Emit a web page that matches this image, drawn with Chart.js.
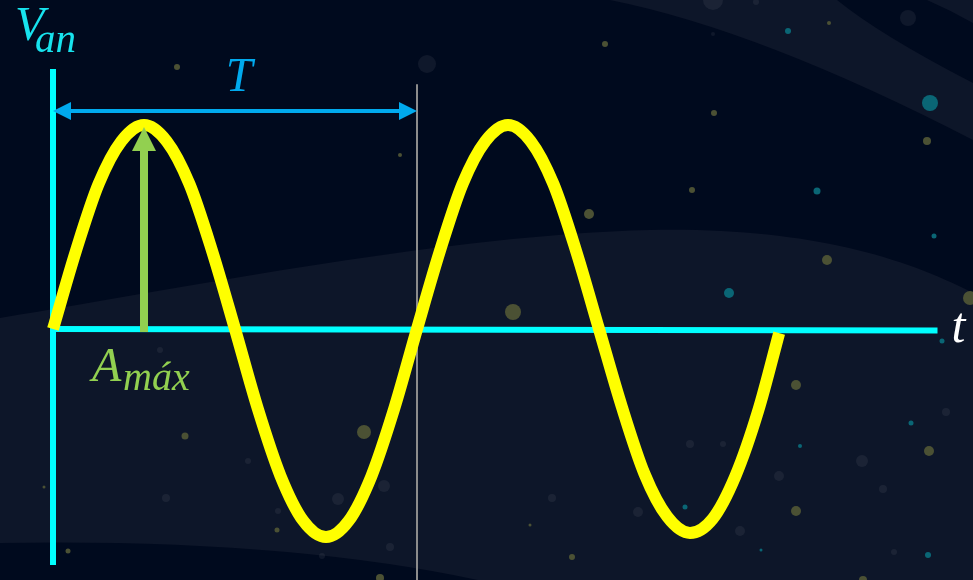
<!DOCTYPE html>
<html>
<head>
<meta charset="utf-8">
<script src="https://cdn.jsdelivr.net/npm/chart.js@4"></script>
<style>
  html, body { margin: 0; padding: 0; background: #000a1e; overflow: hidden; }
</style>
</head>
<body>
<canvas id="waveChart" width="973" height="580"></canvas>
<script>
// --- Data: time in periods (T = 1), voltage in units of A_max ---
const waveT = [0, 0.0625, 0.125, 0.1875, 0.25, 0.3125, 0.375, 0.4375, 0.5,
  0.5625, 0.625, 0.6875, 0.75, 0.8125, 0.875, 0.9375, 1,
  1.0625, 1.125, 1.1875, 1.25, 1.3125, 1.375, 1.4375, 1.5,
  1.5625, 1.625, 1.6875, 1.75, 1.8125, 1.875, 1.9375, 1.995];
const waveV = [0, 0.38, 0.71, 0.92, 1.0, 0.92, 0.71, 0.38, 0,
  -0.39, -0.72, -0.94, -1.02, -0.94, -0.72, -0.39, 0,
  0.38, 0.71, 0.92, 1.0, 0.92, 0.71, 0.38, 0,
  -0.38, -0.71, -0.92, -1.0, -0.93, -0.72, -0.40, -0.02];

const period = 1;        // T
const aMax = 1;          // A_max
const tAxisEnd = 2.43;   // end of the t axis
const vAxisTop = 1.275;
const vAxisBottom = -1.157;
const periodArrowV = 1.069;

// --- Background: dark sky with soft bands and dots ---
const stars = [
  // olive
  [177, 67, 3, 'o'], [605, 44, 3, 'o'], [714, 113, 3, 'o'], [692, 190, 3, 'o'], [589, 214, 5, 'o'],
  [827, 260, 5, 'o'], [927, 141, 4, 'o'], [829, 23, 2, 'o'], [970, 298, 7, 'o'], [513, 312, 8, 'o'],
  [400, 155, 2, 'o'], [796, 385, 5, 'o'], [929, 451, 5, 'o'], [796, 511, 5, 'o'], [863, 580, 4, 'o'],
  [364, 432, 7, 'o'], [185, 436, 3.5, 'o'], [277, 530, 2.5, 'o'], [68, 551, 2.5, 'o'], [380, 578, 4, 'o'],
  [572, 557, 3, 'o'], [530, 525, 1.5, 'o'], [44, 487, 1.5, 'o'],
  // teal
  [930, 103, 8, 't'], [788, 31, 3, 't'], [817, 191, 3.5, 't'], [934, 236, 2.5, 't'], [729, 293, 5, 't'],
  [942, 341, 2.5, 't'], [911, 423, 2.5, 't'], [800, 446, 2, 't'], [685, 507, 2.5, 't'], [928, 555, 3, 't'],
  [761, 550, 1.5, 't'],
  // grey bubbles
  [713, 0, 10, 'g'], [756, 2, 3, 'g'], [908, 18, 8, 'g'], [427, 64, 9, 'g'], [713, 34, 2, 'g'],
  [338, 499, 6, 'g'], [384, 486, 6, 'g'], [278, 511, 3, 'g'], [390, 547, 4, 'g'], [322, 556, 3, 'g'],
  [552, 498, 4, 'g'], [723, 444, 3, 'g'], [740, 531, 5, 'g'], [638, 512, 5, 'g'], [862, 461, 6, 'g'],
  [779, 476, 5, 'g'], [690, 444, 4, 'g'], [883, 489, 4, 'g'], [946, 412, 4, 'g'], [248, 461, 3, 'g'],
  [166, 498, 4, 'g'], [160, 350, 3, 'g'], [894, 552, 3, 'g']
];
const starColors = { o: '#4b5134', t: '#0a6675', g: 'rgba(255,255,255,0.06)' };

const skyPlugin = {
  id: 'sky',
  beforeDraw(chart) {
    const c = chart.ctx, w = chart.width, h = chart.height;
    c.save();
    c.fillStyle = '#000a1e';
    c.fillRect(0, 0, w, h);
    c.fillStyle = '#0d1629';
    // lower band
    c.beginPath();
    c.moveTo(0, 318);
    c.bezierCurveTo(200, 285, 450, 235, 650, 230);
    c.bezierCurveTo(800, 227, 900, 255, w, 293);
    c.lineTo(w, h); c.lineTo(0, h); c.closePath(); c.fill();
    // top-right arc band
    c.beginPath();
    c.moveTo(610, 0);
    c.quadraticCurveTo(760, 30, w, 140);
    c.lineTo(w, 83);
    c.quadraticCurveTo(880, 35, 837, 0);
    c.closePath(); c.fill();
    c.beginPath();
    c.moveTo(927, 0);
    c.quadraticCurveTo(950, 10, w, 23);
    c.lineTo(w, 0); c.closePath(); c.fill();
    // bottom dark strip
    c.fillStyle = '#000a1e';
    c.beginPath();
    c.moveTo(0, 543);
    c.quadraticCurveTo(300, 538, 500, 585);
    c.lineTo(0, 585); c.closePath(); c.fill();
    stars.forEach(s => {
      c.fillStyle = starColors[s[3]];
      c.beginPath();
      c.arc(s[0], s[1], s[2], 0, Math.PI * 2);
      c.fill();
    });
    c.restore();
  }
};

// --- Arrows and labels ---
function arrowHead(c, x, y, dx, dy, len, half) {
  // tip at (x, y), pointing along (dx, dy)
  const px = -dy, py = dx;
  c.beginPath();
  c.moveTo(x, y);
  c.lineTo(x - dx * len + px * half, y - dy * len + py * half);
  c.lineTo(x - dx * len - px * half, y - dy * len - py * half);
  c.closePath();
  c.fill();
}

const markPlugin = {
  id: 'marks',
  afterDatasetsDraw(chart) {
    const c = chart.ctx;
    const xs = chart.scales.x, ys = chart.scales.y;
    c.save();

    // A_max arrow
    const ax = xs.getPixelForValue(period / 4);
    const aBase = ys.getPixelForValue(0) + 3;
    const aTip = ys.getPixelForValue(aMax) + 2;
    c.strokeStyle = c.fillStyle = '#92d050';
    c.lineWidth = 8;
    c.beginPath();
    c.moveTo(ax, aBase);
    c.lineTo(ax, aTip + 20);
    c.stroke();
    arrowHead(c, ax, aTip, 0, -1, 24, 12);

    // T arrow
    const ty = ys.getPixelForValue(periodArrowV);
    const t0 = xs.getPixelForValue(0), t1 = xs.getPixelForValue(period);
    c.strokeStyle = c.fillStyle = '#00aaee';
    c.lineWidth = 4;
    c.beginPath();
    c.moveTo(t0 + 12, ty);
    c.lineTo(t1 - 12, ty);
    c.stroke();
    arrowHead(c, t0, ty, -1, 0, 18, 9);
    arrowHead(c, t1, ty, 1, 0, 18, 9);
    c.restore();
  },
  afterDraw(chart) {
    const c = chart.ctx;
    const xs = chart.scales.x, ys = chart.scales.y;
    const x0 = xs.getPixelForValue(0), y0 = ys.getPixelForValue(0);
    c.save();
    c.textBaseline = 'alphabetic';

    // V_an
    c.fillStyle = '#17e3ee';
    c.font = 'italic 48px "Liberation Serif"';
    c.fillText('V', x0 - 38, 40);
    c.font = 'italic 41px "Liberation Serif"';
    c.fillText('an', x0 - 18, 52);

    // T
    c.fillStyle = '#00aaee';
    c.font = 'italic 48px "Liberation Serif"';
    c.textAlign = 'center';
    c.fillText('T', xs.getPixelForValue(period / 2) + 4, ys.getPixelForValue(periodArrowV) - 20);

    // A_max
    c.textAlign = 'left';
    c.fillStyle = '#92d050';
    c.font = 'italic 48px "Liberation Serif"';
    c.fillText('A', x0 + 39, y0 + 52);
    c.font = 'italic 40px "Liberation Serif"';
    c.fillText('máx', x0 + 70, y0 + 61);

    // t
    c.fillStyle = '#ffffff';
    c.font = 'italic 50px "Liberation Serif"';
    c.fillText('t', xs.getPixelForValue(tAxisEnd) + 14, y0 + 13);
    c.restore();
  }
};

const ctx = document.getElementById('waveChart').getContext('2d');
new Chart(ctx, {
  type: 'line',
  data: {
    datasets: [
      {
        label: 'V_an',
        data: waveT.map((t, i) => ({ x: t, y: waveV[i] })),
        borderColor: '#ffff00',
        borderWidth: 12,
        borderCapStyle: 'butt',
        cubicInterpolationMode: 'monotone',
        pointRadius: 0,
        order: 0
      },
      {
        label: 't axis',
        data: [{ x: 0, y: 0 }, { x: tAxisEnd, y: -0.007 }],
        borderColor: '#00ffff',
        borderWidth: 6,
        borderCapStyle: 'butt',
        pointRadius: 0,
        order: 1
      },
      {
        label: 'V axis',
        data: [{ x: 0, y: vAxisTop }, { x: 0, y: vAxisBottom }],
        borderColor: '#00ffff',
        borderWidth: 6,
        borderCapStyle: 'butt',
        pointRadius: 0,
        order: 1
      },
      {
        label: 'T mark',
        data: [{ x: period, y: 1.2 }, { x: period, y: -1.3 }],
        borderColor: '#8c8c8c',
        borderWidth: 2,
        pointRadius: 0,
        order: 2
      }
    ]
  },
  options: {
    responsive: false,
    animation: false,
    devicePixelRatio: 1,
    layout: { padding: 0 },
    plugins: { legend: { display: false }, tooltip: { enabled: false } },
    scales: {
      x: { type: 'linear', min: -53 / 364, max: 920 / 364, display: false },
      y: { type: 'linear', min: -251 / 204, max: 329 / 204, display: false }
    }
  },
  plugins: [skyPlugin, markPlugin]
});
</script>
</body>
</html>
